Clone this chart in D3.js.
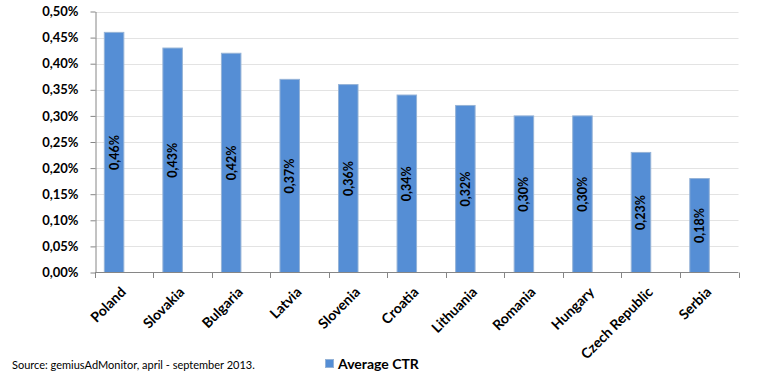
<!DOCTYPE html>
<html>
<head>
<meta charset="utf-8">
<script src="https://cdn.jsdelivr.net/npm/d3@7"></script>
<style>
  body { margin: 0; background: #fff; }
  text { font-family: Lato, "Open Sans", sans-serif; }
</style>
</head>
<body>
<svg id="chart" width="757" height="378"></svg>
<script>
// chart data
var countries = ["Poland", "Slovakia", "Bulgaria", "Latvia", "Slovenia", "Croatia",
  "Lithuania", "Romania", "Hungary", "Czech Republic", "Serbia"]
var ctr = [0.46, 0.43, 0.42, 0.37, 0.36, 0.34, 0.32, 0.30, 0.30, 0.23, 0.18]
var yTicks = [0, 0.05, 0.10, 0.15, 0.20, 0.25, 0.30, 0.35, 0.40, 0.45, 0.50]

var svg = d3.select("#chart")
var fmt = function(v) { return v.toFixed(2).replace(".", ",") + "%" }

var x = d3.scaleBand()
  .domain(countries)
  .range([94.5, 738.5])

var y = d3.scaleLinear()
  .domain([0, 0.5])
  .range([272.5, 11.5])

// gridlines
svg.append("g")
  .selectAll("line")
  .data(yTicks.slice(1))
  .join("line")
  .attr("x1", 95).attr("x2", 738.5)
  .attr("y1", function(d) { return Math.round(y(d)) + 0.5 })
  .attr("y2", function(d) { return Math.round(y(d)) + 0.5 })
  .style("stroke", "#e3e3e3")

// bars (excel leaves room for an empty second series, so bar sits left of centre)
var bw = x.bandwidth()
svg.append("g")
  .selectAll("rect")
  .data(ctr)
  .join("rect")
  .attr("x", function(d, i) { return x(countries[i]) + bw * 0.168 })
  .attr("width", bw * 0.333)
  .attr("y", function(d) { return y(d) })
  .attr("height", function(d) { return y(0) - y(d) })
  .style("fill", "#558ed5")
  .style("stroke", "#95b3d7")
  .style("stroke-width", 1)

// value labels inside bars
svg.append("g")
  .selectAll("text")
  .data(ctr)
  .join("text")
  .attr("transform", function(d, i) {
    var cx = x(countries[i]) + bw * 0.168 + bw * 0.333 / 2
    var cy = (y(d) + y(0)) / 2
    return "translate(" + (cx + 4.5) + "," + cy + ") rotate(-90)"
  })
  .attr("text-anchor", "middle")
  .style("font-size", "12.5px")
  .style("font-weight", "bold")
  .style("fill", "#000")
  .text(function(d) { return fmt(d) })

// y axis
var yAxis = svg.append("g")
  .attr("transform", "translate(95.5,0)")
  .call(d3.axisLeft(y).tickValues(yTicks).tickSize(5).tickSizeOuter(0).tickFormat(fmt))
yAxis.select(".domain").style("stroke", "#868686")
yAxis.selectAll(".tick line").style("stroke", "#868686")
yAxis.selectAll(".tick text")
  .attr("x", -17)
  .style("font-size", "13px")
  .style("font-weight", "bold")
  .style("font-family", "Lato, 'Open Sans', sans-serif")
  .style("fill", "#000")

// x axis
svg.append("line")
  .attr("x1", 95).attr("x2", 738.5)
  .attr("y1", 272.5).attr("y2", 272.5)
  .style("stroke", "#868686")

svg.append("g")
  .selectAll("line")
  .data(countries.concat(["end"]))
  .join("line")
  .attr("x1", function(d, i) { return Math.round(94.5 + i * bw) + 0.5 })
  .attr("x2", function(d, i) { return Math.round(94.5 + i * bw) + 0.5 })
  .attr("y1", 272.5).attr("y2", 278)
  .style("stroke", "#868686")

svg.append("g")
  .selectAll("text")
  .data(countries)
  .join("text")
  .attr("transform", function(d) {
    return "translate(" + (x(d) + bw / 2 + 3) + ",293) rotate(-45)"
  })
  .attr("text-anchor", "end")
  .style("font-size", "14px")
  .style("font-weight", "bold")
  .style("fill", "#000")
  .text(function(d) { return d })

// source + legend
svg.append("text")
  .attr("x", 12).attr("y", 369)
  .style("font-size", "11px")
  .style("fill", "#000")
  .text("Source: gemiusAdMonitor, april - september 2013.")

svg.append("rect")
  .attr("x", 325.5).attr("y", 359.5)
  .attr("width", 8).attr("height", 8)
  .style("fill", "#558ed5")
  .style("stroke", "#95b3d7")

svg.append("text")
  .attr("x", 338).attr("y", 369)
  .style("font-size", "14px")
  .style("font-weight", "bold")
  .style("fill", "#000")
  .text("Average CTR")
</script>
</body>
</html>
